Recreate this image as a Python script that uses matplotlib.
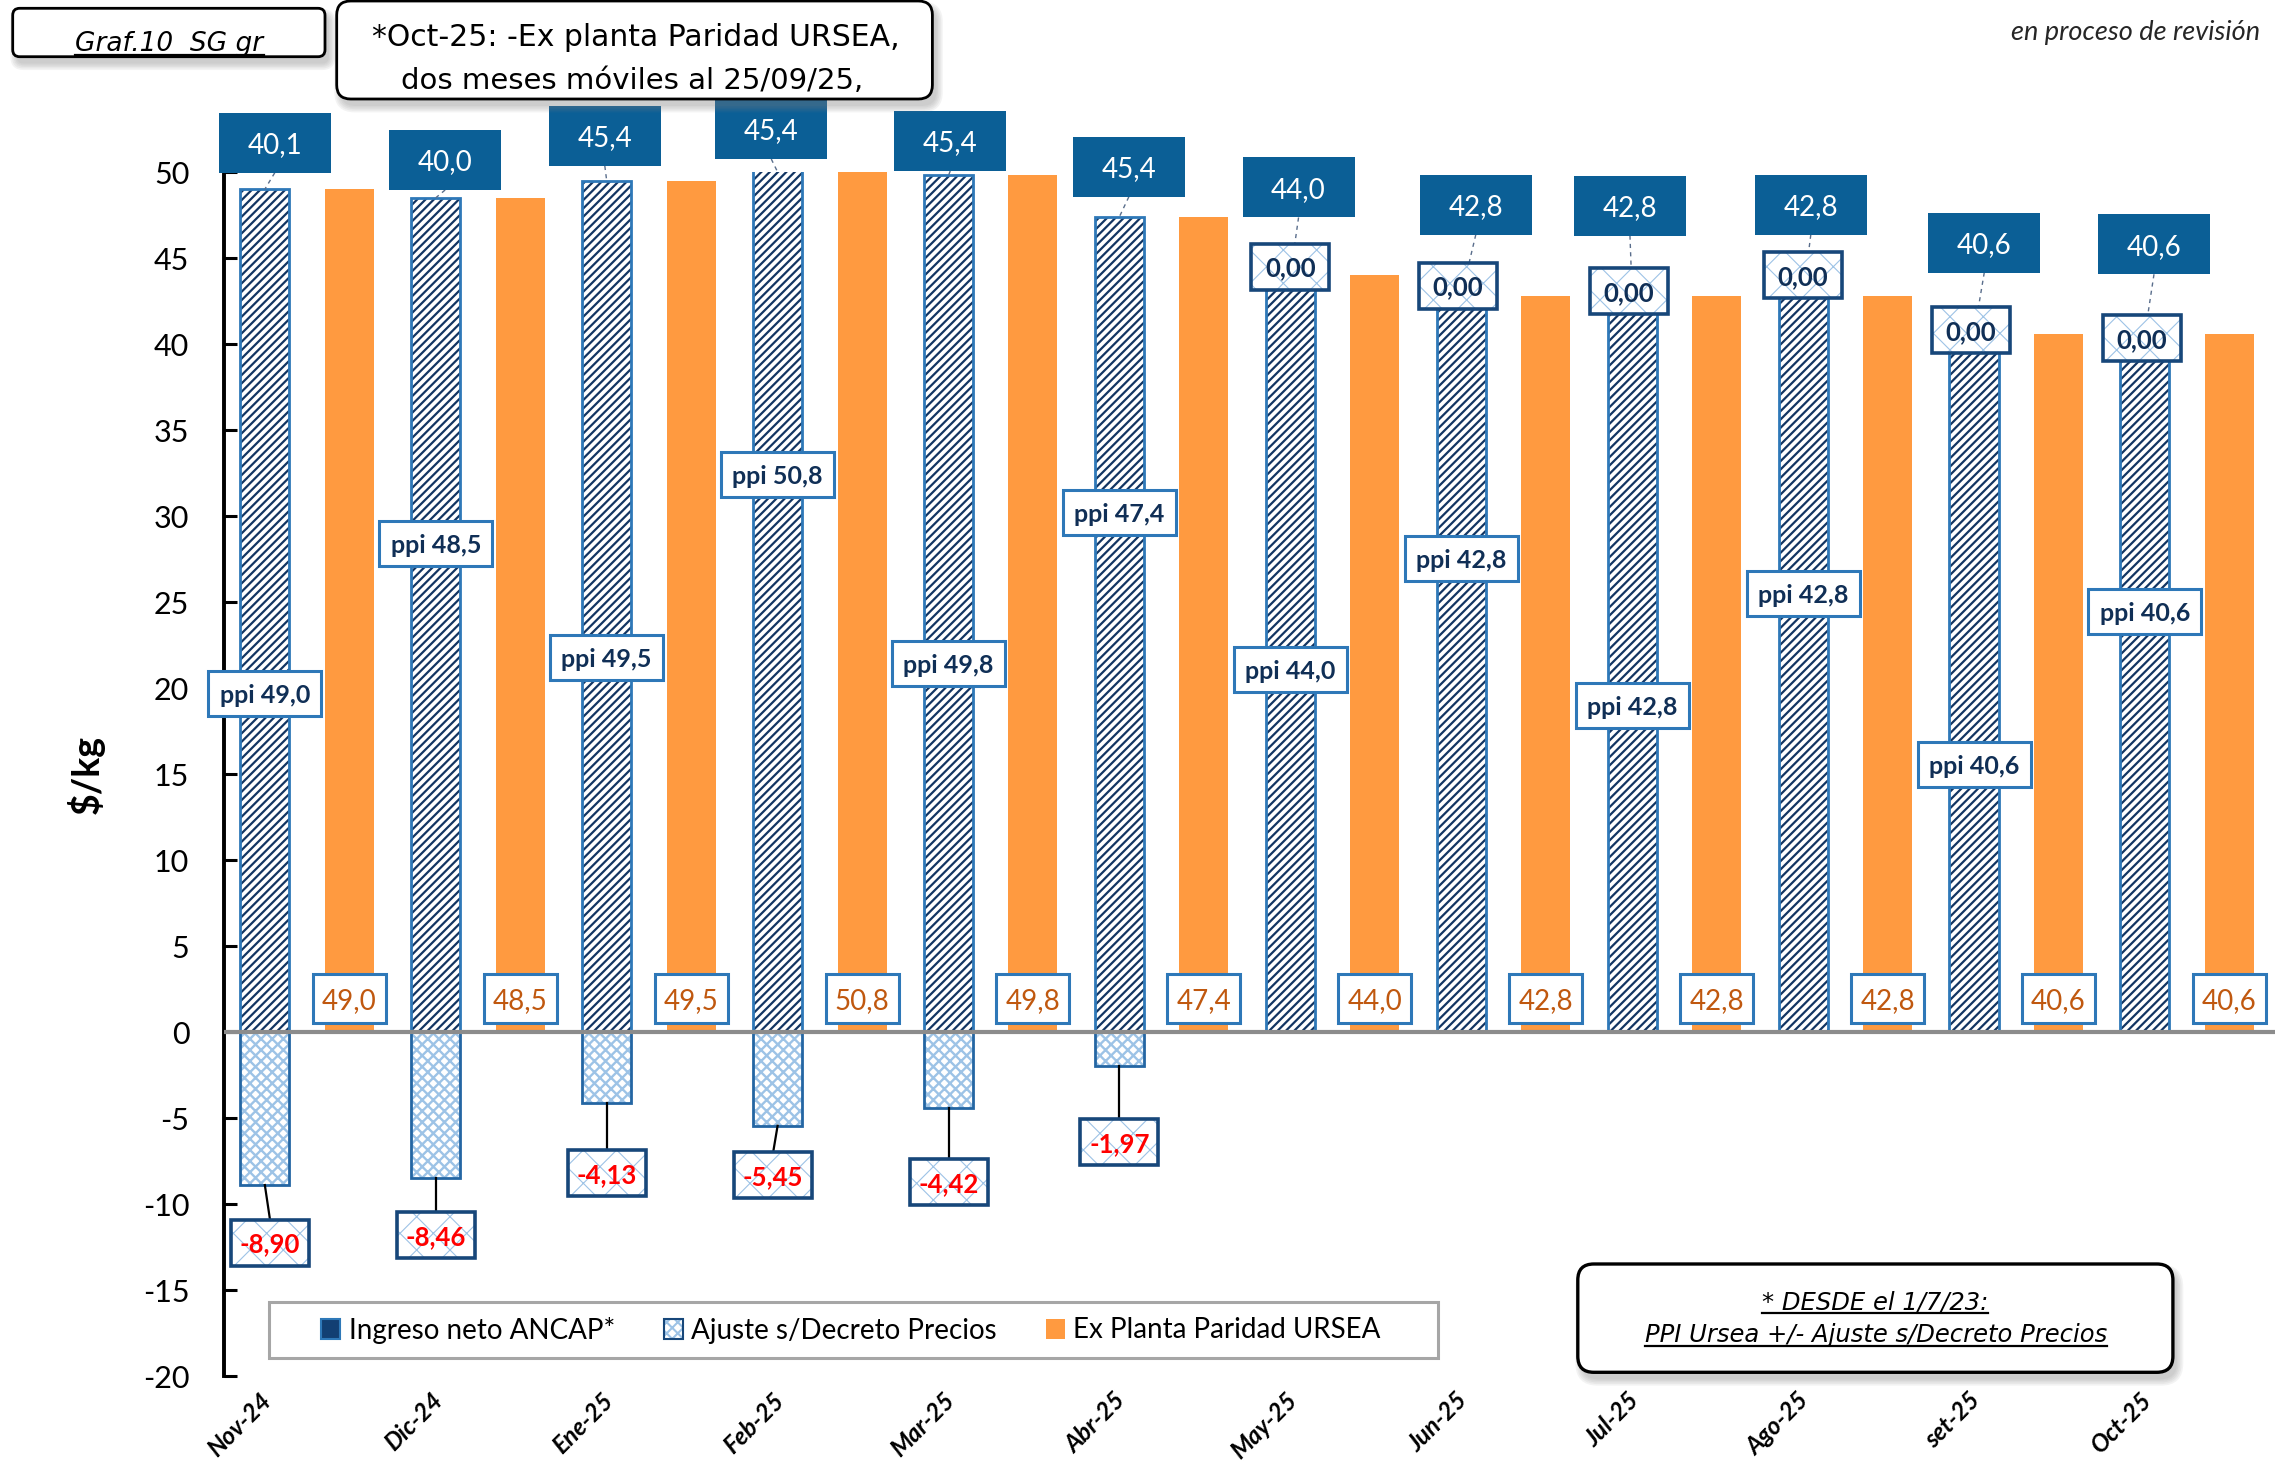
import numpy as np
import matplotlib
matplotlib.use('Agg')
import matplotlib.pyplot as plt
import matplotlib.transforms as mtransforms
from matplotlib.patches import Rectangle, FancyBboxPatch, Patch
from matplotlib.lines import Line2D
from matplotlib.colors import to_rgba

# ---------------- data ----------------
categories = ['Nov-24', 'Dic-24', 'Ene-25', 'Feb-25', 'Mar-25', 'Abr-25',
              'May-25', 'Jun-25', 'Jul-25', 'Ago-25', 'set-25', 'Oct-25']
ppi_ursea = [49.0, 48.5, 49.5, 50.8, 49.8, 47.4, 44.0, 42.8, 42.8, 42.8, 40.6, 40.6]
ajuste_decreto = [-8.90, -8.46, -4.13, -5.45, -4.42, -1.97, 0.00, 0.00, 0.00, 0.00, 0.00, 0.00]
ingreso_neto = [40.1, 40.0, 45.4, 45.4, 45.4, 45.4, 44.0, 42.8, 42.8, 42.8, 40.6, 40.6]
ex_planta = [49.0, 48.5, 49.5, 50.8, 49.8, 47.4, 44.0, 42.8, 42.8, 42.8, 40.6, 40.6]
y_ticks = list(range(-20, 51, 5))
series_names = ['Ingreso neto ANCAP*', 'Ajuste s/Decreto Precios', 'Ex Planta Paridad URSEA']

# ---------------- label layout (data units) ----------------
net_lab_y = [51.7, 50.7, 52.1, 52.5, 51.8, 50.3, 49.1, 48.1, 48.05, 48.1, 45.9, 45.8]
net_lab_dx = [0.058, 0.055, -0.011, -0.037, 0.01, 0.055, 0.048, 0.085, -0.013, 0.045, 0.06, 0.053]
ppi_lab_y = [19.7, 28.4, 21.8, 32.4, 21.4, 30.2, 21.1, 27.55, 19.0, 25.5, 15.55, 24.45]
adj_lab_y = [-12.24, -11.83, -8.22, -8.33, -8.72, -6.42, 44.5, 43.4, 43.1, 44.0, 40.8, 40.35]
adj_lab_dx = [0.03, 0, 0, -0.026, 0, 0, 0, -0.02, -0.02, 0, -0.02, -0.02]
ex_lab_y = 1.96

# ---------------- style ----------------
W, H, DPI = 2278, 1470, 100
plt.rcParams['font.family'] = ['Lato', 'DejaVu Sans']
plt.rcParams['hatch.linewidth'] = 1.5

NAVY = '#123563'
EDGE = '#2E78B8'
NETBOX = '#0B5F96'
PPITXT = '#102F56'
ORANGE = '#FF9A40'
ORTXT = '#C0580F'
LIGHT = '#9DC3E6'
DARKEDGE = '#17477A'
NEGEDGE = '#2466A3'
COMIC = ['DejaVu Sans']

fig = plt.figure(figsize=(W / DPI, H / DPI), dpi=DPI)
ax_l, ax_r, ax_t, ax_b = 224, 2275, 172, 1376
ax = fig.add_axes([ax_l / W, 1 - ax_b / H, (ax_r - ax_l) / W, (ax_b - ax_t) / H])
n = len(categories)
x = np.arange(n)
ax.set_xlim(-0.5, n - 0.5)
ax.set_ylim(min(y_ticks), max(y_ticks))

xh = x - 0.261
xo = x + 0.233
bw = 0.287


def set_hatch(p, color, lw=None):
    p._hatch_color = to_rgba(color)
    if lw is not None and hasattr(p, 'set_hatch_linewidth'):
        p.set_hatch_linewidth(lw)


bars_ppi = ax.bar(xh, ppi_ursea, bw, color='white', edgecolor=EDGE, linewidth=2,
                  hatch='////', zorder=2)
for p in bars_ppi:
    set_hatch(p, NAVY, 1.6)
bars_adj = ax.bar(xh, ajuste_decreto, bw, color='white', edgecolor=NEGEDGE, linewidth=2,
                  hatch='xxx', zorder=2)
for p in bars_adj:
    set_hatch(p, LIGHT, 1.7)
bars_ex = ax.bar(xo, ex_planta, bw, color=ORANGE, edgecolor='none', zorder=2)

ax.axhline(0, color='#8C8C8C', lw=3, zorder=3)

for s in ['top', 'right', 'bottom']:
    ax.spines[s].set_visible(False)
ax.spines['left'].set_linewidth(2.8)
ax.spines['left'].set_color('black')

ax.set_yticks(y_ticks)
ax.set_yticklabels([str(v) for v in y_ticks])
ax.tick_params(axis='y', direction='in', length=9, width=2.2, labelsize=22, pad=25, colors='black')
ax.set_xticks(x)
ax.tick_params(axis='x', length=0, pad=9)
ax.set_xticklabels(categories, rotation=45, ha='right', va='top', rotation_mode='anchor',
                   fontsize=17.5, fontweight='bold', fontstyle='italic')
shift = mtransforms.ScaledTranslation(-50 / DPI, 0, fig.dpi_scale_trans)
for lab in ax.get_xticklabels():
    lab.set_transform(lab.get_transform() + shift)

ax.set_ylabel(r'\$/kg', fontsize=27, fontweight='bold')
ax.yaxis.set_label_coords((105 - ax_l) / (ax_r - ax_l), 0.5)

ppu = ax.transData.transform((0, 1))[1] - ax.transData.transform((0, 0))[1]


def boxed_label(xc, yc, text, w, h, fc, ec, lw, tcolor, size, weight='normal',
                hatch=None, hcolor=None, z=6):
    tr = mtransforms.Affine2D().translate(-w / 2, -h / 2) + \
        mtransforms.ScaledTranslation(xc, yc, ax.transData)
    r = Rectangle((0, 0), w, h, transform=tr, facecolor=fc, edgecolor=ec, linewidth=lw,
                  hatch=hatch, clip_on=False, zorder=z)
    if hatch:
        set_hatch(r, hcolor, 0.8)
    ax.add_artist(r)
    ax.text(xc, yc, text, ha='center', va='center_baseline', color=tcolor, fontsize=size,
            fontweight=weight, zorder=z + 0.1, clip_on=False)


def fmt1(v):
    return f'{v:.1f}'.replace('.', ',')


def fmt2(v):
    return f'{v:.2f}'.replace('.', ',')


top = max(y_ticks)
NET_W, NET_H = 112, 60
ADJ_W, ADJ_H = 78, 46
for i in range(n):
    # net income label (dark box) with dashed leader
    lx = xh[i] + net_lab_dx[i]
    ax.plot([lx, xh[i]], [net_lab_y[i] - NET_H / 2 / ppu, min(ppi_ursea[i], top)],
            ls=(0, (3, 3)), color='#5A6E8C', lw=1.0, zorder=5, clip_on=False)
    boxed_label(lx, net_lab_y[i], fmt1(ingreso_neto[i]), NET_W, NET_H, NETBOX, 'none', 0,
                'white', 20)
    # ppi label
    boxed_label(xh[i], ppi_lab_y[i], 'ppi ' + fmt1(ppi_ursea[i]), 113, 45, 'white', EDGE, 2.2,
                PPITXT, 18, 'bold')
    # ex planta label
    boxed_label(xo[i], ex_lab_y, fmt1(ex_planta[i]), 73, 49, 'white', EDGE, 2.2, ORTXT, 20)
    # adjustment label
    ax_x = xh[i] + adj_lab_dx[i]
    if ajuste_decreto[i] < 0:
        ax.plot([xh[i], ax_x], [ajuste_decreto[i], adj_lab_y[i] + ADJ_H / 2 / ppu],
                color='black', lw=1.6, zorder=5, clip_on=False)
        tc = '#FF0000'
    else:
        tc = PPITXT
    boxed_label(ax_x, adj_lab_y[i], fmt2(ajuste_decreto[i]), ADJ_W, ADJ_H, 'white', DARKEDGE,
                2.6, tc, 18.5, 'bold', hatch='x', hcolor=LIGHT)

# ---------------- legend ----------------
h1 = Patch(facecolor='#123F73', edgecolor=EDGE, linewidth=1.5)
h2 = Patch(facecolor='white', edgecolor=DARKEDGE, linewidth=1.5, hatch='xxx')
h3 = Patch(facecolor=ORANGE, edgecolor='none')
leg = ax.legend([h1, h2, h3], series_names, loc='center left',
                bbox_to_anchor=(321 / W, 1 - 1330 / H), bbox_transform=fig.transFigure,
                ncol=3, frameon=False, handlelength=0.7, handleheight=0.7,
                handletextpad=0.3, columnspacing=1.75, borderpad=0, borderaxespad=0,
                fontsize=20)
set_hatch(leg.legend_handles[1], LIGHT)
fig.add_artist(Rectangle((268.5, H - 1358.3), 1438 - 268.5, 1358.3 - 1301.7,
                         transform=mtransforms.IdentityTransform(), facecolor='none',
                         edgecolor='#A6A6A6', linewidth=2.2, zorder=3))


# ---------------- annotation boxes ----------------
def rounded_box(x0, y0, x1, y1, r, lw=2.0, shadow=True):
    ident = mtransforms.IdentityTransform()
    if shadow:
        for k in range(5):
            e = k * 1.6
            sh = FancyBboxPatch((x0 + 4 - e, H - y1 - 7 - e), (x1 - x0) + 2 * e, (y1 - y0) + 2 * e,
                                boxstyle=f'round,pad=0,rounding_size={r + e}',
                                transform=ident, facecolor='#808080', edgecolor='none',
                                alpha=0.09, zorder=3)
            fig.add_artist(sh)
    b = FancyBboxPatch((x0, H - y1), x1 - x0, y1 - y0, boxstyle=f'round,pad=0,rounding_size={r}',
                       transform=ident, facecolor='white', edgecolor='black', linewidth=lw,
                       zorder=4)
    fig.add_artist(b)


def ftext(xp, yp, s, **kw):
    return fig.text(xp, H - yp, s, transform=mtransforms.IdentityTransform(), zorder=5, **kw)


rounded_box(12.7, 8.3, 325, 56.7, 7)
rounded_box(336.7, 1, 932.4, 99, 14)
rounded_box(1577.8, 1264, 2172.9, 1372.3, 16, lw=2.4)

underlined = []
underlined.append(ftext(169.5, 51, 'Graf.10  SG gr', ha='center', va='baseline', fontsize=19,
                        fontstyle='italic', family=COMIC))
ftext(636, 46, '*Oct-25: -Ex planta Paridad URSEA,', ha='center', va='baseline', fontsize=21.5,
      family=COMIC)
ftext(632, 89, 'dos meses móviles al 25/09/25,', ha='center', va='baseline', fontsize=21,
      family=COMIC)
ftext(2260, 40, 'en proceso de revisión', ha='right', va='baseline', fontsize=19.5,
      fontstyle='italic', color='#262626')
underlined.append(ftext(1875, 1309, '* DESDE el 1/7/23:', ha='center', va='baseline',
                        fontsize=17.5, fontstyle='italic', family=COMIC))
underlined.append(ftext(1876, 1342, 'PPI Ursea +/- Ajuste s/Decreto Precios', ha='center',
                        va='baseline', fontsize=17.5, fontstyle='italic', family=COMIC))

fig.canvas.draw()
renderer = fig.canvas.get_renderer()
for t in underlined:
    bb = t.get_window_extent(renderer)
    yb = t.get_position()[1] - 4
    fig.add_artist(Line2D([bb.x0, bb.x1], [yb, yb], transform=mtransforms.IdentityTransform(),
                          color='black', lw=1.6, zorder=6))

fig.savefig('out.png', dpi=DPI, facecolor='white')
